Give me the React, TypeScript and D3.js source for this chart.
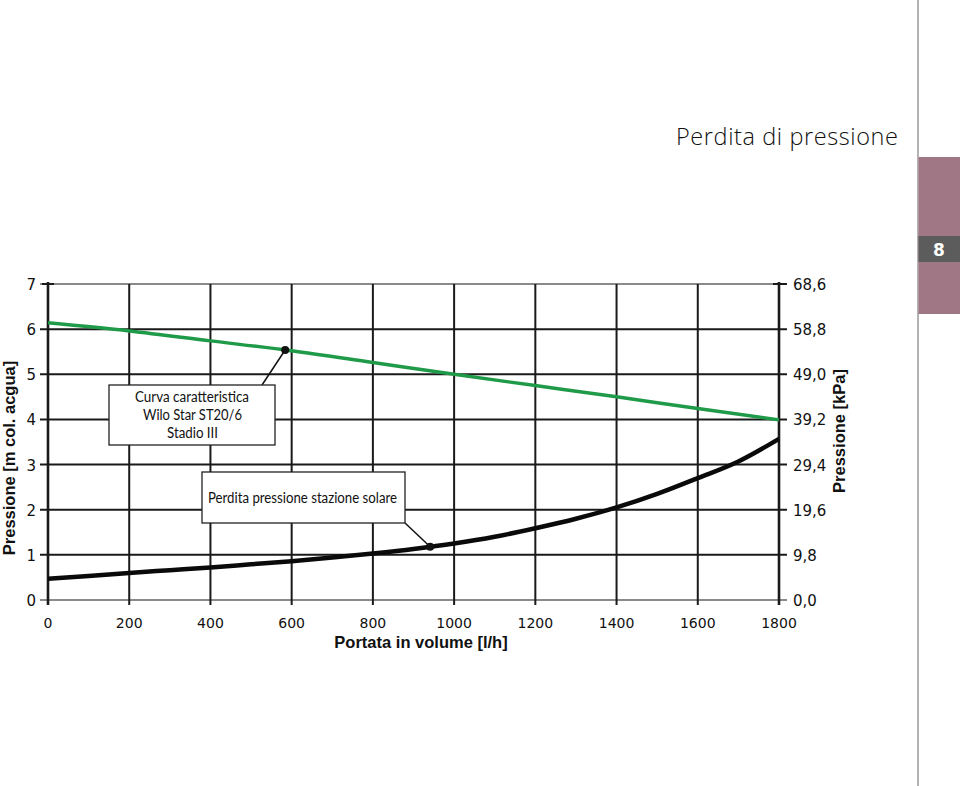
import React from "react";
import * as d3 from "d3";

const flowX = [0, 200, 400, 600, 800, 1000, 1200, 1400, 1600, 1800];
const pumpCurve = [6.14, 5.96, 5.74, 5.52, 5.26, 5.0, 4.75, 4.5, 4.24, 3.99];
const lossX = [0, 100, 200, 300, 400, 500, 600, 700, 800, 900, 1000, 1100, 1200, 1300, 1400, 1500, 1600, 1700, 1800];
const lossCurve = [0.47, 0.53, 0.6, 0.66, 0.72, 0.79, 0.86, 0.94, 1.03, 1.13, 1.25, 1.4, 1.59, 1.8, 2.05, 2.35, 2.7, 3.07, 3.57];
const leftTicks = [0, 1, 2, 3, 4, 5, 6, 7];
const rightTickLabels = ["0,0", "9,8", "19,6", "29,4", "39,2", "49,0", "58,8", "68,6"];
const xTicks = [0, 200, 400, 600, 800, 1000, 1200, 1400, 1600, 1800];
const pumpMarker = 584;
const lossMarker = 941;

export default function App() {
  const x = d3.scaleLinear().domain([0, 1800]).range([48, 779]);
  const y = d3.scaleLinear().domain([0, 7]).range([600, 284]);
  const pumpLine = d3
    .line<number>()
    .x((_, i) => x(flowX[i]))
    .y((d) => y(d))
    .curve(d3.curveMonotoneX);
  const lossLine = d3
    .line<number>()
    .x((_, i) => x(lossX[i]))
    .y((d) => y(d))
    .curve(d3.curveMonotoneX);
  const pumpAt = (v: number) => d3.scaleLinear().domain(flowX).range(pumpCurve)(v);
  const lossAt = (v: number) => d3.scaleLinear().domain(lossX).range(lossCurve)(v);
  const tickFont = "DejaVu Sans, Verdana, sans-serif";
  const boxFont = "Lato, 'Open Sans', sans-serif";
  const boldFont = "'Liberation Sans', Arial, sans-serif";
  const px = x(pumpMarker), py = y(pumpAt(pumpMarker));
  const lx = x(lossMarker), ly = y(lossAt(lossMarker));
  return (
    <svg width={960} height={786} style={{ position: "absolute", left: 0, top: 0, background: "#fff" }}>
      <rect x={0} y={0} width={960} height={786} fill="#fff" />
      {/* side decoration */}
      <line x1={918} y1={0} x2={918} y2={786} stroke="#9a9a9a" strokeWidth={1.5} />
      <rect x={918.5} y={157} width={42} height={157} fill="#a07785" />
      <rect x={918.5} y={236} width={42} height={26} fill="#5c5c5c" />
      <text x={939} y={256} textAnchor="middle" fill="#fff" fontFamily="'DejaVu Sans', sans-serif" fontWeight="bold" fontSize={17}>8</text>
      <text x={676} y={145} textLength={222} lengthAdjust="spacing" fill="#111" fontFamily="'Open Sans', sans-serif" fontWeight={300} fontSize={23.5}>Perdita di pressione</text>

      {/* horizontal grid */}
      {leftTicks.map((t) => (
        <line key={"h" + t} x1={40} x2={787} y1={y(t)} y2={y(t)} stroke={t === 7 || t === 0 ? "#8a8a8a" : "#1a1a1a"} strokeWidth={2} />
      ))}
      {/* vertical grid */}
      {xTicks.map((t) => (
        <line key={"v" + t} x1={x(t)} x2={x(t)} y1={t === 0 || t === 1800 ? 282 : 284} y2={605} stroke="#1a1a1a" strokeWidth={t === 0 || t === 1800 ? 2.6 : 2} />
      ))}
      {/* axis top caps */}
      <line x1={42} x2={54} y1={284} y2={284} stroke="#1a1a1a" strokeWidth={2} />
      <line x1={773} x2={787} y1={284} y2={284} stroke="#1a1a1a" strokeWidth={2} />

      {/* tick labels */}
      {leftTicks.map((t) => (
        <text key={"l" + t} x={36} y={y(t) + 6} textAnchor="end" fontFamily={tickFont} fontSize={15} fill="#111">{t}</text>
      ))}
      {leftTicks.map((t, i) => (
        <text key={"r" + t} x={793} y={y(t) + 6} textAnchor="start" fontFamily={tickFont} fontSize={15} fill="#111">{rightTickLabels[i]}</text>
      ))}
      {xTicks.map((t) => (
        <text key={"x" + t} x={x(t)} y={628} textAnchor="middle" fontFamily={tickFont} fontSize={14} fill="#111">{t}</text>
      ))}

      {/* axis titles */}
      <text x={421} y={648} textAnchor="middle" fontFamily={boldFont} fontWeight="bold" fontSize={16.5} fill="#111">Portata in volume [l/h]</text>
      <text transform={`translate(15,458) rotate(-90)`} textAnchor="middle" fontFamily={boldFont} fontWeight="bold" fontSize={16.5} fill="#111">Pressione [m col. acgua]</text>
      <text transform={`translate(845,431) rotate(-90)`} textAnchor="middle" fontFamily={boldFont} fontWeight="bold" fontSize={16.5} fill="#111">Pressione [kPa]</text>

      {/* curves */}
      <path d={pumpLine(pumpCurve) || ""} fill="none" stroke="#1f9a48" strokeWidth={3.5} />
      <path d={lossLine(lossCurve) || ""} fill="none" stroke="#0a0a0a" strokeWidth={4.5} />

      {/* annotation 1 */}
      <line x1={262} y1={385} x2={px} y2={py} stroke="#111" strokeWidth={1.5} />
      <circle cx={px} cy={py} r={4} fill="#111" />
      <rect x={109} y={385} width={166} height={60} fill="#fff" stroke="#222" strokeWidth={1.3} />
      <text x={135} y={402} textLength={114} lengthAdjust="spacingAndGlyphs" fontFamily={boxFont} fontSize={15.5} fill="#111">Curva caratteristica</text>
      <text x={143} y={420} textLength={99} lengthAdjust="spacingAndGlyphs" fontFamily={boxFont} fontSize={15.5} fill="#111">Wilo Star ST20/6</text>
      <text x={167} y={438} textLength={51} lengthAdjust="spacingAndGlyphs" fontFamily={boxFont} fontSize={15.5} fill="#111">Stadio III</text>

      {/* annotation 2 */}
      <line x1={405} y1={523} x2={lx} y2={ly} stroke="#111" strokeWidth={1.5} />
      <circle cx={lx} cy={ly} r={4} fill="#111" />
      <rect x={202} y={472} width={203} height={51} fill="#fff" stroke="#222" strokeWidth={1.3} />
      <text x={208} y={503} textLength={189} lengthAdjust="spacingAndGlyphs" fontFamily={boxFont} fontSize={15.5} fill="#111">Perdita pressione stazione solare</text>
    </svg>
  );
}
